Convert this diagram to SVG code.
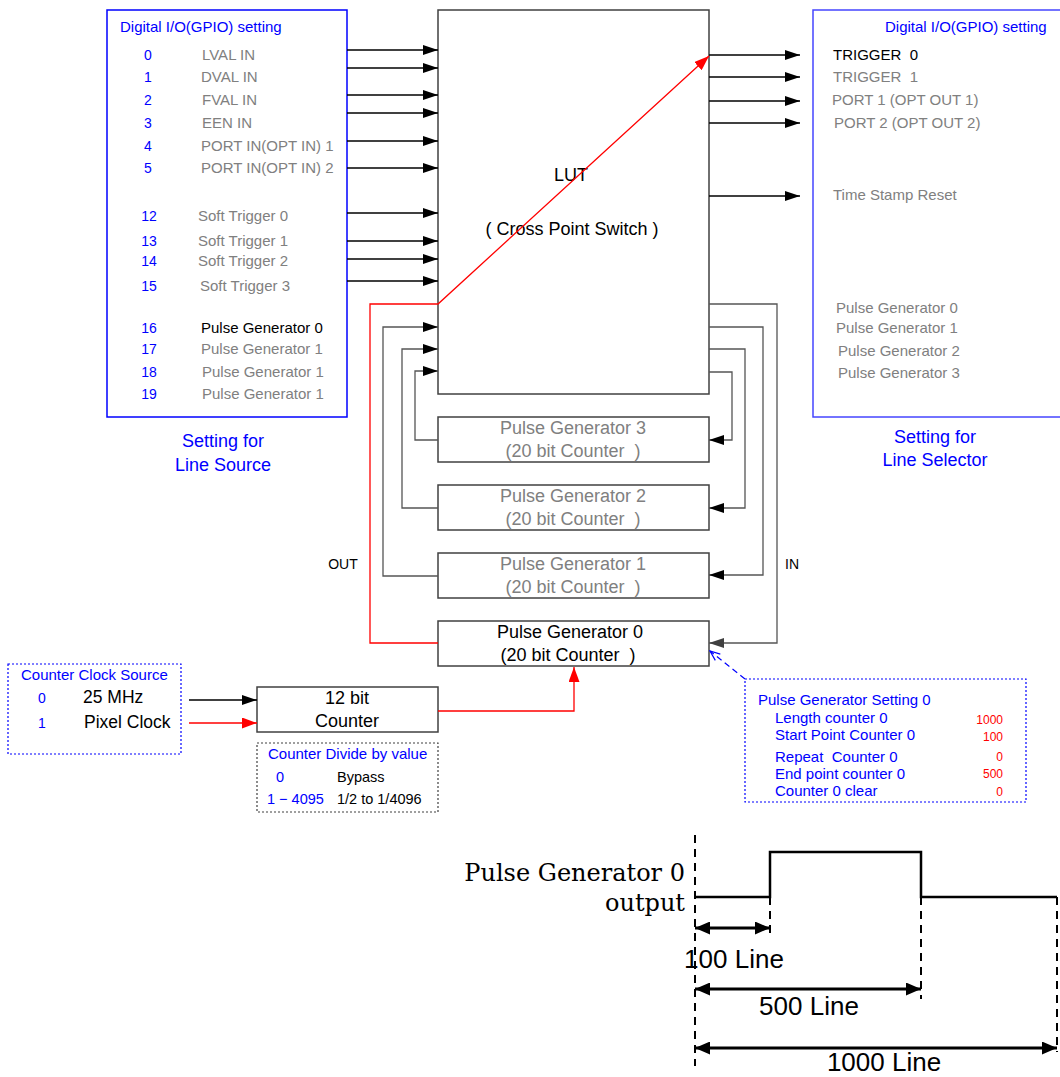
<svg xmlns="http://www.w3.org/2000/svg" width="1060" height="1077" viewBox="0 0 1060 1077">
<style>
text{font-family:"Liberation Sans",Arial,sans-serif;}
.b{fill:#0000ff}
.g{fill:#808080}
.k{fill:#000}
.r{fill:#ff0000}
.f12{font-size:12px}
.f14{font-size:14px}
.f145{font-size:14.5px}
.f15{font-size:15px}
.f175{font-size:17.5px}
.f18{font-size:18px}
.mid{text-anchor:middle}
.end{text-anchor:end}
.box{fill:#fff;stroke:#404040;stroke-width:1.5}
.ln{fill:none;stroke:#000;stroke-width:1.3}
.lg{fill:none;stroke:#555;stroke-width:1.3}
.red{fill:none;stroke:#ff0000;stroke-width:1.3}
.wave{fill:none;stroke:#000;stroke-width:2.5}
.dash{fill:none;stroke:#000;stroke-width:2;stroke-dasharray:8 6}
.dim{fill:none;stroke:#000;stroke-width:3}
.serif{font-family:"DejaVu Serif","Liberation Serif",serif;font-size:24px}
.big{font-size:26px}
</style>
<defs>
<marker id="ak" markerUnits="userSpaceOnUse" markerWidth="15" markerHeight="10" refX="15" refY="5" orient="auto"><path d="M0,0 L15,5 L0,10 z" fill="#000"/></marker>
<marker id="ag" markerUnits="userSpaceOnUse" markerWidth="15" markerHeight="10" refX="15" refY="5" orient="auto"><path d="M0,0 L15,5 L0,10 z" fill="#404040"/></marker>
<marker id="ar" markerUnits="userSpaceOnUse" markerWidth="15" markerHeight="11" refX="15" refY="5.5" orient="auto"><path d="M0,0 L15,5.5 L0,11 z" fill="#ff0000"/></marker>
<marker id="ab" markerUnits="userSpaceOnUse" markerWidth="12" markerHeight="10" refX="11" refY="5" orient="auto"><path d="M1,1 L11,5 L1,9" fill="none" stroke="#0000ff" stroke-width="1.2"/></marker>
<marker id="at" markerUnits="userSpaceOnUse" markerWidth="15" markerHeight="13" refX="15" refY="6.5" orient="auto-start-reverse"><path d="M0,0 L15,6.5 L0,13 z" fill="#000"/></marker>
</defs>
<rect width="1060" height="1077" fill="#fff"/>

<g id="line-source">
<rect x="107" y="10" width="240" height="407" fill="#fff" stroke="#0000ff" stroke-width="1.5"/>
<text class="b f15" x="120" y="32">Digital I/O(GPIO) setting</text>
<g class="b f14 mid">
<text x="148" y="60">0</text>
<text x="148" y="82">1</text>
<text x="148" y="105">2</text>
<text x="148" y="128">3</text>
<text x="148" y="151">4</text>
<text x="148" y="173">5</text>
<text x="149" y="221">12</text>
<text x="149" y="246">13</text>
<text x="149" y="266">14</text>
<text x="149" y="291">15</text>
<text x="149" y="333">16</text>
<text x="149" y="354">17</text>
<text x="149" y="377">18</text>
<text x="149" y="399">19</text>
</g>
<g class="g f15">
<text x="202" y="60">LVAL IN</text>
<text x="201" y="82">DVAL IN</text>
<text x="202" y="105">FVAL IN</text>
<text x="202" y="128">EEN IN</text>
<text x="201" y="151">PORT IN(OPT IN) 1</text>
<text x="201" y="173">PORT IN(OPT IN) 2</text>
<text x="198" y="221">Soft Trigger 0</text>
<text x="198" y="246">Soft Trigger 1</text>
<text x="198" y="266">Soft Trigger 2</text>
<text x="200" y="291">Soft Trigger 3</text>
<text x="201" y="333" class="k">Pulse Generator 0</text>
<text x="201" y="354">Pulse Generator 1</text>
<text x="202" y="377">Pulse Generator 1</text>
<text x="202" y="399">Pulse Generator 1</text>
</g>
<text class="b f18 mid" x="223" y="447">Setting for</text>
<text class="b f18 mid" x="223" y="471">Line Source</text>
</g>

<g id="line-selector">
<rect x="813" y="10" width="260" height="407" fill="#fff" stroke="#4646ff" stroke-width="1.5"/>
<text class="b f15" x="885" y="32">Digital I/O(GPIO) setting</text>
<text class="k f15" x="833" y="60">TRIGGER&#160; 0</text>
<g class="g f15">
<text x="833" y="82">TRIGGER&#160; 1</text>
<text x="832" y="105">PORT 1 (OPT OUT 1)</text>
<text x="834" y="128">PORT 2 (OPT OUT 2)</text>
<text x="833" y="200">Time Stamp Reset</text>
<text x="836" y="313">Pulse Generator 0</text>
<text x="836" y="333">Pulse Generator 1</text>
<text x="838" y="356">Pulse Generator 2</text>
<text x="838" y="378">Pulse Generator 3</text>
</g>
<text class="b f18 mid" x="935" y="443">Setting for</text>
<text class="b f18 mid" x="935" y="466">Line Selector</text>
</g>

<g id="lut">
<rect class="box" x="438" y="10" width="271" height="384"/>
<text class="k f18 mid" x="571" y="181">LUT</text>
<text class="k f18 mid" x="572" y="235">( Cross Point Switch )</text>
</g>

<g id="pg3">
<rect class="box" x="438" y="417" width="271" height="45"/>
<text class="g f18 mid" x="573" y="434">Pulse Generator 3</text>
<text class="g f18 mid" x="573" y="457">(20 bit Counter&#160; )</text>
</g>
<g id="pg2">
<rect class="box" x="438" y="485" width="271" height="45"/>
<text class="g f18 mid" x="573" y="502">Pulse Generator 2</text>
<text class="g f18 mid" x="573" y="525">(20 bit Counter&#160; )</text>
</g>
<g id="pg1">
<rect class="box" x="438" y="553" width="271" height="45"/>
<text class="g f18 mid" x="573" y="570">Pulse Generator 1</text>
<text class="g f18 mid" x="573" y="593">(20 bit Counter&#160; )</text>
</g>
<g id="pg0">
<rect class="box" x="438" y="621" width="271" height="45"/>
<text class="k f18 mid" x="570" y="638">Pulse Generator 0</text>
<text class="k f18 mid" x="568" y="661">(20 bit Counter&#160; )</text>
</g>

<g id="counter12">
<rect class="box" x="257" y="687" width="181" height="45"/>
<text class="k f18 mid" x="347" y="704">12 bit</text>
<text class="k f18 mid" x="347" y="727">Counter</text>
</g>

<g id="clock-source">
<rect x="8" y="664" width="173" height="90" fill="#fff" stroke="#0000ff" stroke-width="1.2" stroke-dasharray="2 2"/>
<text class="b f15" x="21" y="680">Counter Clock Source</text>
<text class="b f14 mid" x="42" y="703">0</text>
<text class="k f175" x="83" y="703">25 MHz</text>
<text class="b f14 mid" x="42" y="728">1</text>
<text class="k f175" x="84" y="728">Pixel Clock</text>
</g>

<g id="divide-value">
<rect x="257" y="743" width="181" height="69" fill="#fff" stroke="#404040" stroke-width="1.2" stroke-dasharray="2 2"/>
<text class="b f15" x="268" y="759">Counter Divide by value</text>
<text class="b f145 mid" x="280" y="782">0</text>
<text class="k f145" x="337" y="782">Bypass</text>
<text class="b f145" x="267" y="804">1 − 4095</text>
<text class="k f145" x="337" y="804">1/2 to 1/4096</text>
</g>

<g id="pg-setting">
<rect x="745" y="679" width="281" height="123" fill="#fff" stroke="#0000ff" stroke-width="1.2" stroke-dasharray="2 2"/>
<text class="b f15" x="758" y="705">Pulse Generator Setting 0</text>
<g class="b f15">
<text x="775" y="723">Length counter 0</text>
<text x="775" y="740">Start Point Counter 0</text>
<text x="775" y="762">Repeat&#160; Counter 0</text>
<text x="775" y="779">End point counter 0</text>
<text x="775" y="796">Counter 0 clear</text>
</g>
<g class="r f12 end">
<text x="1003" y="724">1000</text>
<text x="1003" y="741">100</text>
<text x="1003" y="761">0</text>
<text x="1003" y="778">500</text>
<text x="1003" y="796">0</text>
</g>
</g>

<g id="labels">
<text class="k f14 mid" x="343" y="569">OUT</text>
<text class="k f14 mid" x="792" y="569">IN</text>
</g>

<g id="connectors">
<g class="ln">
<line x1="347" y1="50" x2="438" y2="50" marker-end="url(#ak)"/>
<line x1="347" y1="68" x2="438" y2="68" marker-end="url(#ak)"/>
<line x1="347" y1="95" x2="438" y2="95" marker-end="url(#ak)"/>
<line x1="347" y1="113" x2="438" y2="113" marker-end="url(#ak)"/>
<line x1="347" y1="141" x2="438" y2="141" marker-end="url(#ak)"/>
<line x1="347" y1="168" x2="438" y2="168" marker-end="url(#ak)"/>
<line x1="347" y1="213" x2="438" y2="213" marker-end="url(#ak)"/>
<line x1="347" y1="241" x2="438" y2="241" marker-end="url(#ak)"/>
<line x1="347" y1="259" x2="438" y2="259" marker-end="url(#ak)"/>
<line x1="347" y1="281" x2="438" y2="281" marker-end="url(#ak)"/>
<line x1="709" y1="55" x2="800" y2="55" marker-end="url(#ak)"/>
<line x1="709" y1="77" x2="800" y2="77" marker-end="url(#ak)"/>
<line x1="709" y1="101" x2="800" y2="101" marker-end="url(#ak)"/>
<line x1="709" y1="123" x2="800" y2="123" marker-end="url(#ak)"/>
<line x1="709" y1="196" x2="800" y2="196" marker-end="url(#ak)"/>
<line x1="189" y1="700" x2="257" y2="700" marker-end="url(#ak)"/>
</g>
<g class="lg">
<polyline points="438,576 383,576 383,327 438,327" marker-end="url(#ak)"/>
<polyline points="438,508 402,508 402,349 438,349" marker-end="url(#ak)"/>
<polyline points="438,440 415,440 415,371 438,371" marker-end="url(#ak)"/>
<polyline points="709,304 777,304 777,643 709,643" marker-end="url(#ag)"/>
<polyline points="709,327 763,327 763,575 709,575" marker-end="url(#ak)"/>
<polyline points="709,349 745,349 745,508 709,508" marker-end="url(#ak)"/>
<polyline points="709,372 732,372 732,440 709,440" marker-end="url(#ak)"/>
</g>
<g class="red">
<polyline points="438,643 370,643 370,304 438,304 709,56" marker-end="url(#ar)"/>
<polyline points="438,711 574,711 574,667" marker-end="url(#ar)"/>
<line x1="189" y1="723" x2="257" y2="723" marker-end="url(#ar)"/>
</g>
<line x1="745" y1="679" x2="710" y2="651" stroke="#0000ff" stroke-width="1.2" stroke-dasharray="6 4" marker-end="url(#ab)"/>
</g>

<g id="timing">
<text class="serif end" x="685" y="881">Pulse Generator 0</text>
<text class="serif end" x="685" y="911">output</text>
<polyline class="wave" points="695,897 770,897 770,852 921,852 921,897 1057,897"/>
<line class="dash" x1="695" y1="835" x2="695" y2="1066"/>
<line class="dash" x1="770" y1="897" x2="770" y2="938"/>
<line class="dash" x1="921" y1="897" x2="921" y2="999"/>
<line class="dash" x1="1057" y1="897" x2="1057" y2="1052"/>
<line class="dim" x1="695" y1="928" x2="770" y2="928" marker-start="url(#at)" marker-end="url(#at)"/>
<line class="dim" x1="695" y1="989" x2="921" y2="989" marker-start="url(#at)" marker-end="url(#at)"/>
<line class="dim" x1="695" y1="1048" x2="1057" y2="1048" marker-start="url(#at)" marker-end="url(#at)"/>
<text class="k big mid" x="734" y="968">100 Line</text>
<text class="k big mid" x="809" y="1015">500 Line</text>
<text class="k big mid" x="884" y="1071">1000 Line</text>
</g>
</svg>
